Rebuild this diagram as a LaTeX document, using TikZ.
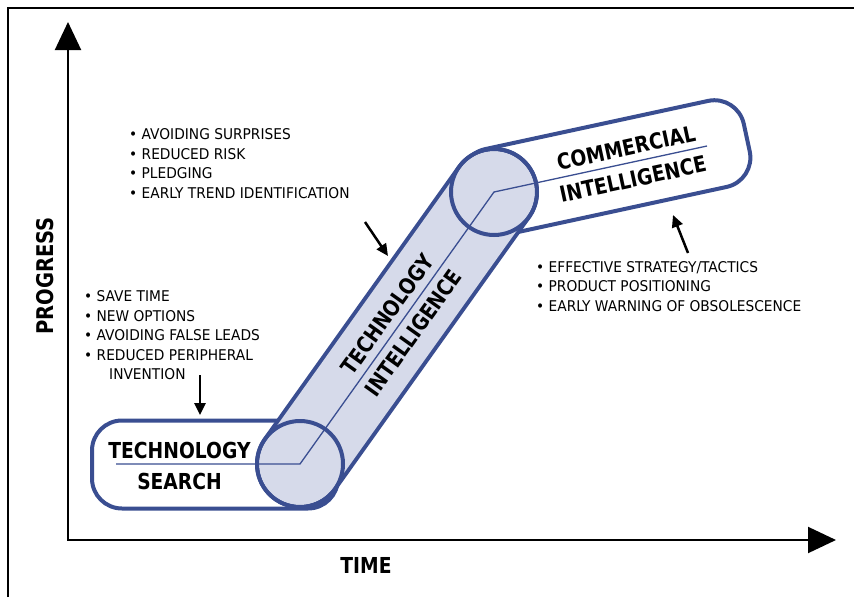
\documentclass[tikz,border=0pt]{standalone}
\usepackage{fontspec}
\setmainfont{DejaVu Sans}[FakeStretch=0.93]
\newfontfamily\headfont{DejaVu Sans}[FakeStretch=0.85]
\usetikzlibrary{arrows.meta}
\definecolor{tubeblue}{RGB}{58,78,145}
\definecolor{tubefill}{RGB}{214,218,234}

\begin{document}
\begin{tikzpicture}[x=1pt,y=-1pt,
  tube/.style={draw=tubeblue, line width=4pt, fill=white, rounded corners=30pt, inner sep=0pt},
  axisline/.style={line width=2pt, {Triangle[length=28pt,width=26pt]}-{Triangle[length=28pt,width=26pt]}},
  pointer/.style={line width=2.5pt, -{Triangle[length=12pt,width=11pt]}},
  title/.style={font=\headfont\bfseries\fontsize{22}{#1}\selectfont, inner sep=0pt, align=center},
  title/.default=26,
  bullets/.style={font=\fontsize{14.8}{19.5}\selectfont, align=left, inner sep=0pt, anchor=north west}]

\useasboundingbox (0,0) rectangle (854,597);
\draw[line width=2pt] (8,597) -- (8,8) -- (854,8);

\coordinate (origin) at (68,540);
\coordinate (ytop) at (68,22);
\coordinate (xend) at (836,540);
\draw[axisline] (ytop) -- (origin) -- (xend);

\node[title, rotate=90, font=\headfont\bfseries\fontsize{23}{26}\selectfont] (progress) at (45,276) {PROGRESS};
\node[title] (time) at (366,565) {TIME};

\node[tube, minimum width=246pt, minimum height=88pt] (search) at (215,464.5) {};
\node[tube, minimum width=288pt, minimum height=88pt, rotate=12.2] (commercial) at (606,168) {};

\coordinate (ts) at (300,464);
\coordinate (ci) at (494,192);
\draw[tubeblue, line width=90pt, line cap=round] (ts) -- (ci);
\draw[tubefill, line width=82pt, line cap=round] (ts) -- (ci);
\draw[tubeblue, line width=4pt] (ts) circle[radius=43pt] (ci) circle[radius=43pt];

\coordinate (tsstart) at (116,464);
\coordinate (ciend) at (707,146);
\draw[tubeblue, line width=1.3pt] (tsstart) -- (ts) -- (ci) -- (ciend);

\node[title=30.5] (searchlabel) at (179.5,466) {TECHNOLOGY\\SEARCH};
\node[title=32, rotate=54.5] (intellabel) at (400.5,323.5) {TECHNOLOGY\\INTELLIGENCE};
\node[title=32, rotate=12.2] (commlabel) at (629.5,163.5) {COMMERCIAL\\INTELLIGENCE};

\node[bullets] (intellist) at (129,128.5) {• AVOIDING SURPRISES\\• REDUCED RISK\\• PLEDGING\\• EARLY TREND IDENTIFICATION};
\node[bullets] (searchlist) at (84,290.5) {• SAVE TIME\\• NEW OPTIONS\\• AVOIDING FALSE LEADS\\• REDUCED PERIPHERAL\\\hspace*{25pt}INVENTION};
\node[bullets] (commlist) at (536,261) {• EFFECTIVE STRATEGY/TACTICS\\• PRODUCT POSITIONING\\• EARLY WARNING OF OBSOLESCENCE};

\coordinate (searchfrom) at (200,375);
\coordinate (searchto) at (200,415);
\coordinate (intelfrom) at (365,222);
\coordinate (intelto) at (388,256);
\coordinate (commfrom) at (688,253);
\coordinate (commto) at (673,215);
\draw[pointer] (searchfrom) -- (searchto);
\draw[pointer] (intelfrom) -- (intelto);
\draw[pointer] (commfrom) -- (commto);

\end{tikzpicture}
\end{document}
